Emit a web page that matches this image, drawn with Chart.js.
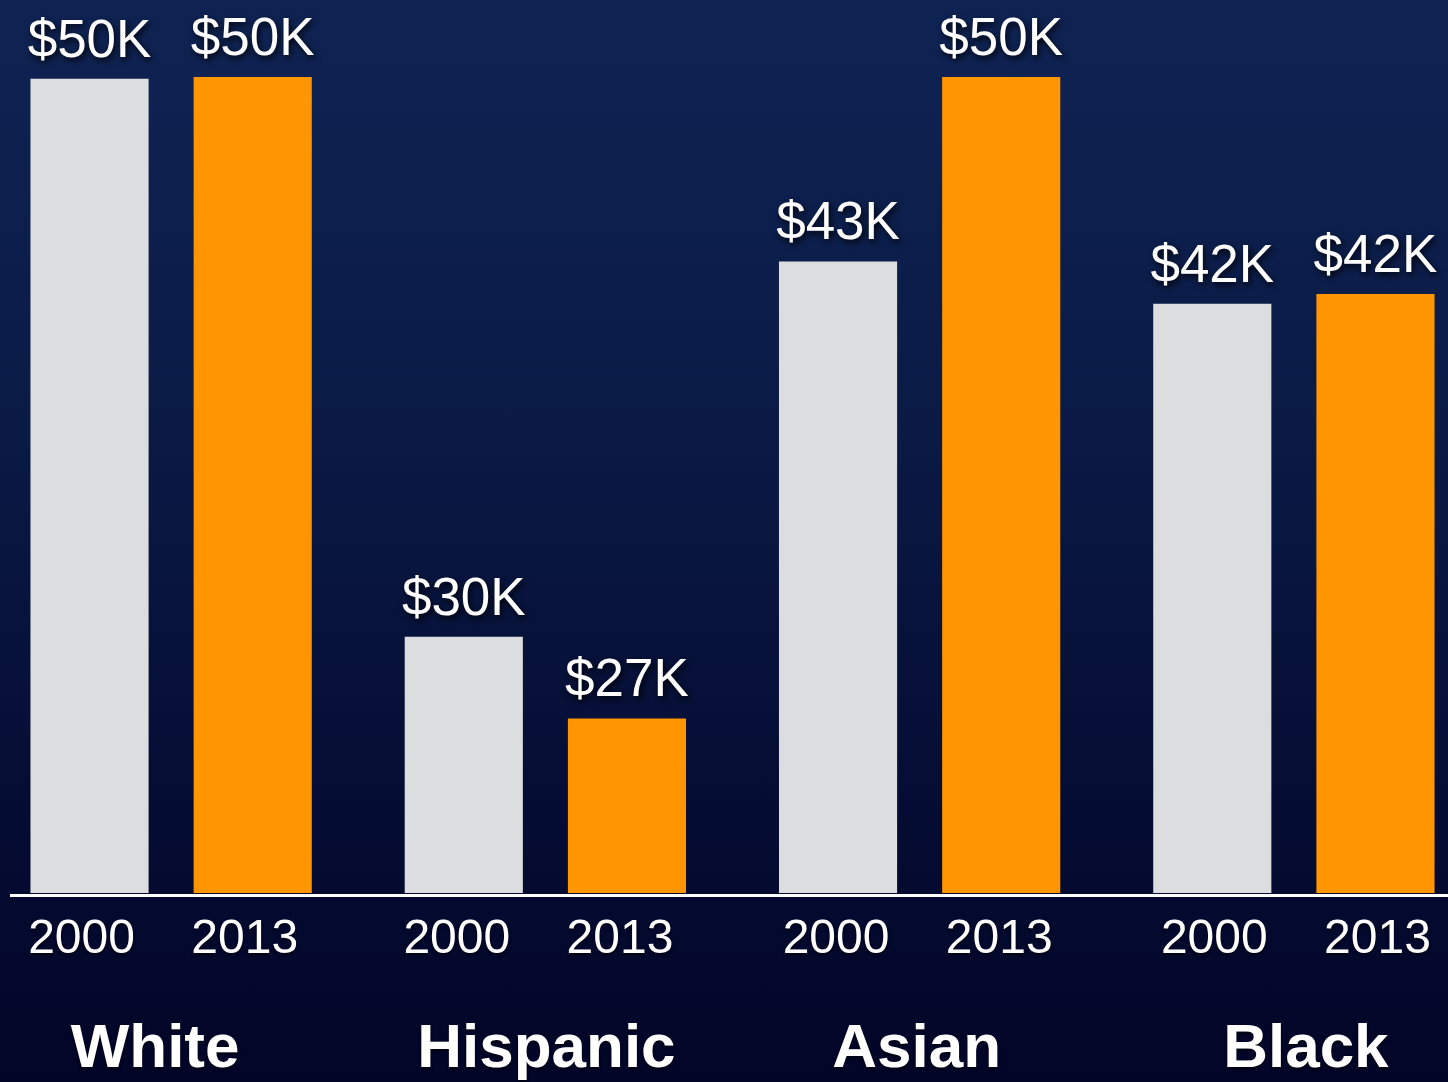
<!DOCTYPE html>
<html>
<head>
<meta charset="utf-8">
<script src="https://cdn.jsdelivr.net/npm/chart.js@4/dist/chart.umd.min.js"></script>
<style>
  html, body { margin:0; padding:0; width:1448px; height:1082px; overflow:hidden; }
  body { background: linear-gradient(to bottom, #0f2353 0%, #0a1a45 40%, #050c33 75%, #020527 100%); position:relative; }
  #wrap { position:absolute; left:-16px; top:0; width:1497px; height:1082px; }
</style>
</head>
<body>
<div id="wrap"><canvas id="c"></canvas></div>
<script>
// Categories and series
const groups = ["White", "Hispanic", "Asian", "Black"];
const years = ["2000", "2013"];
// Bar heights as drawn in the picture (in $K-equivalent units)
const bars2000 = [49.9, 15.7, 38.7, 36.1];
const bars2013 = [50.0, 10.7, 50.0, 36.7];
// Value labels printed above the bars
const labels2000 = ["$50K", "$30K", "$43K", "$42K"];
const labels2013 = ["$50K", "$27K", "$50K", "$42K"];

const FONT = "'Liberation Sans', Arial, Helvetica, sans-serif";

// small horizontal text nudges (layout only)
const groupLabelShift = [-16, 1, -3, 12];
const yearLabelShift = [-8, -7, -2, 2];

const textPlugin = {
  id: 'texts',
  afterDatasetsDraw(chart) {
    const ctx = chart.ctx;
    const y0 = chart.scales.y.getPixelForValue(0);
    ctx.save();
    ctx.strokeStyle = '#ffffff';
    ctx.lineWidth = 3;
    ctx.beginPath();
    ctx.moveTo(26, y0 + 2.5);
    ctx.lineTo(chart.width, y0 + 2.5);
    ctx.stroke();
    ctx.restore();

    const valueLabels = [labels2000, labels2013];
    chart.data.datasets.forEach((ds, di) => {
      const meta = chart.getDatasetMeta(di);
      meta.data.forEach((bar, i) => {
        ctx.save();
        ctx.font = `53px ${FONT}`;
        ctx.fillStyle = '#ffffff';
        ctx.textAlign = 'center';
        ctx.textBaseline = 'alphabetic';
        ctx.shadowColor = 'rgba(0,0,0,0.85)';
        ctx.shadowBlur = 6;
        ctx.shadowOffsetX = 2;
        ctx.shadowOffsetY = 3;
        ctx.fillText(valueLabels[di][i], bar.x, bar.y - 22);
        ctx.restore();
        ctx.save();
        ctx.font = `48px ${FONT}`;
        ctx.fillStyle = '#ffffff';
        ctx.textAlign = 'center';
        ctx.textBaseline = 'alphabetic';
        ctx.shadowColor = 'rgba(0,0,0,0.6)';
        ctx.shadowBlur = 3;
        ctx.shadowOffsetY = 2;
        ctx.fillText(years[di], bar.x + yearLabelShift[i], y0 + 60);
        ctx.restore();
      });
    });
    const xs = chart.scales.x;
    groups.forEach((g, i) => {
      ctx.save();
      ctx.font = `bold 62px ${FONT}`;
      ctx.fillStyle = '#ffffff';
      ctx.textAlign = 'center';
      ctx.textBaseline = 'alphabetic';
      ctx.shadowColor = 'rgba(0,0,0,0.6)';
      ctx.shadowBlur = 3;
      ctx.shadowOffsetY = 2;
      ctx.fillText(g, xs.getPixelForValue(i) + groupLabelShift[i], y0 + 174);
      ctx.restore();
    });
  }
};

new Chart(document.getElementById('c'), {
  type: 'bar',
  data: {
    labels: groups,
    datasets: [
      { label: years[0], data: bars2000, backgroundColor: '#dcdddf', borderWidth: 0 },
      { label: years[1], data: bars2013, backgroundColor: '#ff9500', borderWidth: 0 }
    ]
  },
  options: {
    responsive: true,
    maintainAspectRatio: false,
    animation: false,
    categoryPercentage: 0.872,
    barPercentage: 0.724,
    layout: { padding: { top: 0, bottom: 189, left: 0, right: 0 } },
    plugins: { legend: { display: false }, tooltip: { enabled: false } },
    scales: {
      x: { display: false },
      y: { display: false, min: 0, max: 54.72 }
    }
  },
  plugins: [textPlugin]
});
</script>
</body>
</html>
